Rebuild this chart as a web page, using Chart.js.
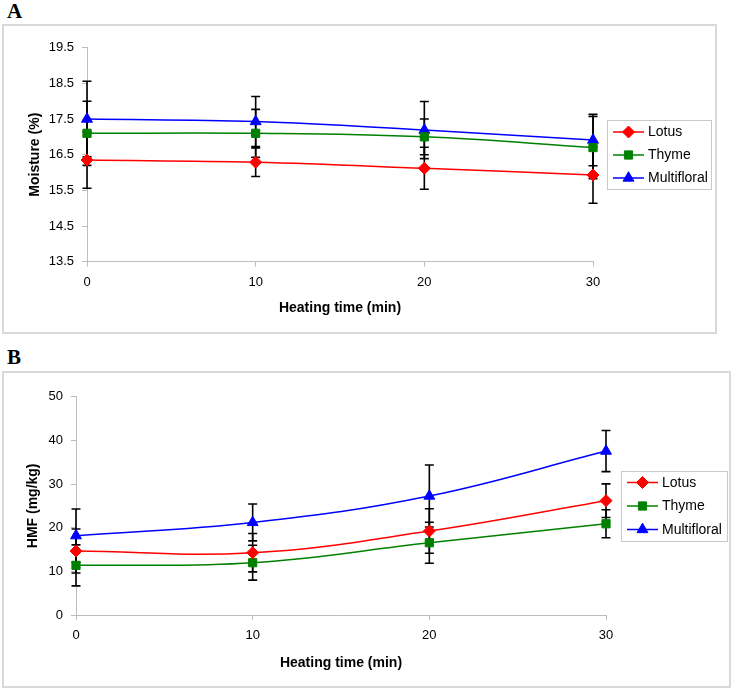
<!DOCTYPE html>
<html><head><meta charset="utf-8">
<script src="https://cdn.jsdelivr.net/npm/chart.js@4/dist/chart.umd.min.js"></script>
<style>
html,body{margin:0;padding:0;background:#fff;width:731px;height:688px;overflow:hidden;position:relative}
.frame{position:absolute;border:2px solid #d9d9d9;box-sizing:border-box}
.lbl{position:absolute;font-family:'Liberation Serif','Times New Roman',serif;font-weight:bold;font-size:21px;line-height:21px;color:#000}
canvas{position:absolute}
</style></head><body>
<div class="lbl" style="left:7px;top:1px">A</div>
<div class="frame" style="left:2px;top:24px;width:715px;height:310px"></div>
<canvas id="cA" width="713" height="308" style="left:3px;top:25px"></canvas>
<div class="lbl" style="left:7px;top:347px">B</div>
<div class="frame" style="left:2px;top:371px;width:729px;height:317px"></div>
<canvas id="cB" width="727" height="315" style="left:3px;top:372px"></canvas>
<script>
// ---- data ----
const timeMin = [0, 10, 20, 30];
const seriesNames = ['Lotus', 'Thyme', 'Multifloral'];
const xTicks = [0, 10, 20, 30];
const moistureTicks = [13.5, 14.5, 15.5, 16.5, 17.5, 18.5, 19.5];
const hmfTicks = [0, 10, 20, 30, 40, 50];

const moistureLotus = [16.35, 16.29, 16.12, 15.93];
const moistureLotusErr = [0.79, 0.40, 0.59, 0.79];
const moistureThyme = [17.10, 17.10, 17.00, 16.70];
const moistureThymeErr = [0.90, 0.67, 0.50, 0.87];
const moistureMulti = [17.50, 17.43, 17.19, 16.91];
const moistureMultiErr = [1.06, 0.70, 0.80, 0.72];

const hmfLotus = [14.66, 14.27, 19.23, 26.18];
const hmfLotusErr = [5.05, 4.40, 5.10, 3.85];
const hmfThyme = [11.37, 11.98, 16.56, 20.90];
const hmfThymeErr = [4.70, 4.00, 4.70, 3.20];
const hmfMulti = [18.17, 21.20, 27.25, 37.55];
const hmfMultiErr = [6.10, 4.22, 7.10, 4.70];

// ---- styling ----
const FONT = "'Liberation Sans', Arial, sans-serif";
Chart.defaults.font.family = FONT;
Chart.defaults.color = '#000';
const AXIS = '#bdbdbd';
const styles = [
  {color: '#ff0000', pointStyle: 'rectRot', radius: 6},
  {color: '#008000', pointStyle: 'rect', radius: 5.8},
  {color: '#0000ff', pointStyle: 'triangle', radius: 6.3}
];

function makeDatasets(vals, errs) {
  return vals.map((v, k) => ({
    label: seriesNames[k],
    data: timeMin.map((t, i) => ({x: t, y: v[i]})),
    errors: errs[k],
    borderColor: styles[k].color,
    backgroundColor: styles[k].color,
    pointBackgroundColor: styles[k].color,
    pointBorderColor: styles[k].color,
    pointBorderWidth: 1,
    pointStyle: styles[k].pointStyle,
    pointRadius: styles[k].radius,
    borderWidth: 1.5,
    tension: 0.4,
    clip: false
  }));
}

function drawMarker(ctx, style, x, y, r) {
  ctx.beginPath();
  if (style === 'rectRot') {
    ctx.moveTo(x, y - r); ctx.lineTo(x + r, y); ctx.lineTo(x, y + r); ctx.lineTo(x - r, y);
  } else if (style === 'rect') {
    const s = r * Math.SQRT1_2; ctx.rect(x - s, y - s, 2 * s, 2 * s);
  } else {
    const a = 2 * Math.PI / 3;
    ctx.moveTo(x, y - r);
    ctx.lineTo(x + Math.sin(a) * r, y - Math.cos(a) * r);
    ctx.lineTo(x + Math.sin(2 * a) * r, y - Math.cos(2 * a) * r);
  }
  ctx.closePath();
  ctx.fill(); ctx.stroke();
}

const errorBarPlugin = {
  id: 'errorBars',
  beforeDatasetsDraw(chart) {
    const {ctx} = chart;
    const xs = chart.scales.x, ys = chart.scales.y;
    ctx.save();
    ctx.strokeStyle = '#000';
    ctx.lineWidth = 1.6;
    chart.data.datasets.forEach(ds => {
      if (!ds.errors) return;
      ds.data.forEach((p, i) => {
        const e = ds.errors[i];
        const px = xs.getPixelForValue(p.x);
        const yt = ys.getPixelForValue(p.y + e), yb = ys.getPixelForValue(p.y - e);
        ctx.beginPath();
        ctx.moveTo(px, yt); ctx.lineTo(px, yb);
        ctx.moveTo(px - 4.5, yt); ctx.lineTo(px + 4.5, yt);
        ctx.moveTo(px - 4.5, yb); ctx.lineTo(px + 4.5, yb);
        ctx.stroke();
      });
    });
    ctx.restore();
  }
};

const legendPlugin = {
  id: 'boxLegend',
  afterDraw(chart, args, o) {
    const {ctx} = chart;
    ctx.save();
    ctx.strokeStyle = '#c8c8c8';
    ctx.lineWidth = 1;
    ctx.fillStyle = '#fff';
    ctx.fillRect(o.left, o.top, o.width, o.height);
    ctx.strokeRect(Math.round(o.left) + 0.5, Math.round(o.top) + 0.5, o.width, o.height);
    ctx.font = '14px ' + FONT;
    ctx.textBaseline = 'middle';
    ctx.textAlign = 'left';
    chart.data.datasets.forEach((ds, k) => {
      const y = o.top + o.firstRow + k * o.rowGap;
      const x0 = o.left + 6;
      ctx.strokeStyle = ds.borderColor;
      ctx.lineWidth = 1.5;
      ctx.beginPath(); ctx.moveTo(x0, y); ctx.lineTo(x0 + 31, y); ctx.stroke();
      ctx.fillStyle = ds.pointBackgroundColor;
      ctx.lineWidth = 1;
      drawMarker(ctx, ds.pointStyle, x0 + 15.5, y, ds.pointRadius);
      ctx.fillStyle = '#000';
      ctx.fillText(ds.label, x0 + 35, y + 0.5);
    });
    ctx.restore();
  }
};

function makeChart(id, cfg) {
  return new Chart(document.getElementById(id), {
    type: 'line',
    data: {datasets: makeDatasets(cfg.vals, cfg.errs)},
    plugins: [errorBarPlugin, legendPlugin],
    options: {
      responsive: false,
      animation: false,
      devicePixelRatio: 1,
      layout: {padding: {top: cfg.padTop, right: cfg.padRight, left: 0, bottom: 0}},
      plugins: {
        legend: {display: false},
        tooltip: {enabled: false},
        boxLegend: cfg.legend
      },
      scales: {
        x: {
          type: 'linear', min: 0, max: 30,
          afterBuildTicks: s => { s.ticks = xTicks.map(v => ({value: v})); },
          afterFit: s => { s.height = cfg.xHeight; },
          grid: {drawOnChartArea: false, drawTicks: true, tickLength: 5, color: AXIS},
          border: {color: AXIS, width: 1},
          ticks: {font: {size: 13}, color: '#000', padding: 7.5, maxRotation: 0},
          title: {display: true, text: 'Heating time (min)', font: {size: 14, weight: 'bold'},
                  padding: {top: 0, bottom: cfg.xTitlePad}, color: '#000'}
        },
        y: {
          type: 'linear', min: cfg.yMin, max: cfg.yMax,
          afterBuildTicks: s => { s.ticks = cfg.yTicks.map(v => ({value: v})); },
          afterFit: s => { s.width = cfg.yWidth; },
          grid: {drawOnChartArea: false, drawTicks: true, tickLength: 5, color: AXIS},
          border: {color: AXIS, width: 1},
          ticks: {font: {size: 13}, color: '#000', padding: 8, callback: cfg.fmt},
          title: {display: true, text: cfg.yTitle, font: {size: 14, weight: 'bold'},
                  padding: {top: cfg.yTitlePad, bottom: 0}, color: '#000'}
        }
      }
    }
  });
}

makeChart('cA', {
  vals: [moistureLotus, moistureThyme, moistureMulti],
  errs: [moistureLotusErr, moistureThymeErr, moistureMultiErr],
  yMin: 13.5, yMax: 19.5, yTicks: moistureTicks, fmt: v => Number(v).toFixed(1),
  yTitle: 'Moisture (%)',
  padTop: 22.7, padRight: 123, xHeight: 71.3, yWidth: 84,
  yTitlePad: 23.6, xTitlePad: 16.6,
  legend: {left: 604, top: 95, width: 104, height: 69, firstRow: 12, rowGap: 23}
});

makeChart('cB', {
  vals: [hmfLotus, hmfThyme, hmfMulti],
  errs: [hmfLotusErr, hmfThymeErr, hmfMultiErr],
  yMin: 0, yMax: 50, yTicks: hmfTicks, fmt: v => String(v),
  yTitle: 'HMF (mg/kg)',
  padTop: 24.7, padRight: 124, xHeight: 72, yWidth: 73,
  yTitlePad: 21.6, xTitlePad: 15.9,
  legend: {left: 618, top: 99, width: 106, height: 70, firstRow: 11.5, rowGap: 23.5}
});
</script>
</body></html>
